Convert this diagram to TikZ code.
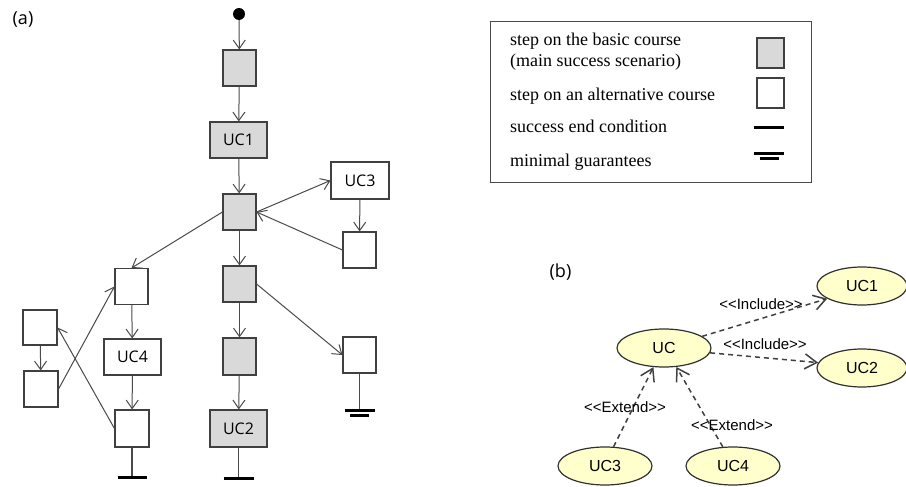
\documentclass[tikz,border=0pt]{standalone}
\usepackage{fontspec}
\setmainfont{Liberation Serif}
\newfontfamily\osans{Open Sans}
\newfontfamily\arialf{Liberation Sans}
\usetikzlibrary{arrows.meta,shapes.geometric}
\definecolor{boxc}{HTML}{404040}
\definecolor{grayf}{HTML}{D9D9D9}
\definecolor{linec}{HTML}{4A4A4A}
\definecolor{ucfill}{HTML}{FFFFCC}
\definecolor{ucline}{HTML}{303030}
\begin{document}
\begin{tikzpicture}[x=1pt,y=-1pt,
  stepgray/.style={draw=boxc, fill=grayf, line width=1.1pt, inner sep=0pt,
    minimum width=33pt, minimum height=36pt, font=\osans\fontsize{16}{19}\selectfont},
  stepwhite/.style={stepgray, fill=white},
  flow/.style={draw=linec, line width=1pt, -{Straight Barb[length=8.5pt,width=12pt,line width=1pt]}},
  stem/.style={draw=linec, line width=1.1pt},
  endbar/.style={draw=black, line width=3pt},
  startdot/.style={circle, fill=black, inner sep=0pt, minimum size=12pt},
  legtext/.style={anchor=base west, inner sep=0pt, font=\fontsize{18}{21}\selectfont},
  panel/.style={inner sep=0pt, font=\osans\fontsize{18}{21}\selectfont},
  ucell/.style={ellipse, draw=ucline, fill=ucfill, line width=1.2pt, inner sep=0pt,
    minimum width=94pt, minimum height=38pt, font=\arialf\fontsize{16}{19}\selectfont},
  dep/.style={draw=boxc, line width=1.5pt, dash pattern=on 5pt off 4pt,
    -{Straight Barb[length=12pt,width=15pt,line width=1.5pt]}},
  deplabel/.style={inner sep=0pt, font=\arialf\fontsize{15}{18}\selectfont}
]
\useasboundingbox (0,0) rectangle (906,487);

% ---------- (a) ----------
\node[panel] (pa) at (23,19.5) {(a)};
\node[startdot] (start) at (239,14) {};
\node[stepgray] (s1) at (239.5,68) {};
\node[stepgray, minimum width=57pt] (uc1) at (238.5,140) {UC1};
\node[stepgray] (s2) at (239.5,212) {};
\node[stepwhite, minimum width=58pt, minimum height=37pt] (uc3) at (360,180.5) {UC3};
\node[stepwhite] (a1) at (359.5,250) {};
\node[stepgray] (s3) at (239.5,284) {};
\node[stepgray, minimum height=37pt] (s4) at (239.5,356.5) {};
\node[stepgray, minimum width=57pt, minimum height=37pt] (uc2) at (238.5,428.5) {UC2};
\node[stepwhite] (a2) at (131.5,286.5) {};
\node[stepwhite, minimum width=57pt] (uc4) at (132.5,357) {UC4};
\node[stepwhite, minimum width=34pt, minimum height=37pt] (a3) at (132,428.5) {};
\node[stepwhite, minimum width=34pt, minimum height=35pt] (a4) at (40,327.5) {};
\node[stepwhite, minimum width=34pt] (a5) at (41,389) {};
\node[stepwhite] (a6) at (359.5,355) {};

\draw[flow] (start) -- (s1);
\draw[flow] (s1) -- (uc1);
\draw[flow] (uc1) -- (s2);
\draw[flow] (s2.east) -- (uc3.west);
\draw[flow] (uc3) -- (a1);
\draw[flow] (a1.west) -- (s2.east);
\draw[flow] (s2) -- (s3);
\draw[flow] (s3) -- (s4);
\draw[flow] (s4) -- (uc2);
\draw[flow] (s3.east) -- (a6.west);
\draw[flow] (s2.west) -- (a2.north);
\draw[flow] (a2) -- (uc4);
\draw[flow] (uc4) -- (a3);
\draw[flow] (a4) -- (a5);
\draw[flow] (a5.east) -- (a2.west);
\draw[flow] (a3.west) -- (a4.east);

% end conditions
\coordinate (e1) at (238.5,478);
\coordinate (e2) at (132,477);
\coordinate (e3) at (359.5,410);
\draw[stem] (uc2.south) -- (e1);
\draw[endbar] ([xshift=-15pt]e1) -- ([xshift=15pt]e1);
\draw[stem] (a3.south) -- (e2);
\draw[endbar] ([xshift=-14.5pt]e2) -- ([xshift=14.5pt]e2);
\draw[stem] (a6.south) -- (e3);
\draw[endbar] ([xshift=-15pt]e3) -- ([xshift=15pt]e3);
\draw[endbar] ([xshift=-9.5pt,yshift=-5pt]e3) -- ([xshift=9.5pt,yshift=-5pt]e3);

% ---------- legend ----------
\node[draw=linec, line width=1pt, minimum width=321pt, minimum height=161pt,
  anchor=north west, inner sep=0pt] (legend) at (490,21) {};
\node[legtext] (l1) at (510,45.7) {step on the basic course};
\node[legtext] (l2) at (510,66.7) {(main success scenario)};
\node[legtext] (l3) at (510,100) {step on an alternative course};
\node[legtext] (l4) at (510,132) {success end condition};
\node[legtext] (l5) at (510,166) {minimal guarantees};
\node[stepgray, minimum width=27pt, minimum height=30pt] (lg) at (770.5,53) {};
\node[stepwhite, minimum width=27pt, minimum height=30pt] (lw) at (770.5,93) {};
\coordinate (ls) at (769,128);
\coordinate (lm) at (769,153);
\draw[endbar] ([xshift=-15pt]ls) -- ([xshift=15pt]ls);
\draw[endbar] ([xshift=-15pt]lm) -- ([xshift=15pt]lm);
\draw[endbar] ([xshift=-9.5pt,yshift=-5pt]lm) -- ([xshift=9.5pt,yshift=-5pt]lm);

% ---------- (b) ----------
\node[panel] (pb) at (560.5,272) {(b)};
\node[ucell] (buc) at (664,348) {UC};
\node[ucell, minimum width=90pt] (buc1) at (862,286) {UC1};
\node[ucell, minimum width=90pt] (buc2) at (862,368) {UC2};
\node[ucell] (buc3) at (605,466) {UC3};
\node[ucell] (buc4) at (733,466) {UC4};

\draw[dep] (buc.17) -- (buc1.200);
\draw[dep] (buc.-6) -- (buc2.173);
\draw[dep] (buc3.66) -- (buc.241);
\draw[dep] (buc4.118) -- (buc.-57);

\node[deplabel] (i1) at (761,304) {<{}<Include>{}>};
\node[deplabel] (i2) at (765,344) {<{}<Include>{}>};
\node[deplabel] (x1) at (625,407) {<{}<Extend>{}>};
\node[deplabel] (x2) at (732,425) {<{}<Extend>{}>};
\end{tikzpicture}
\end{document}
